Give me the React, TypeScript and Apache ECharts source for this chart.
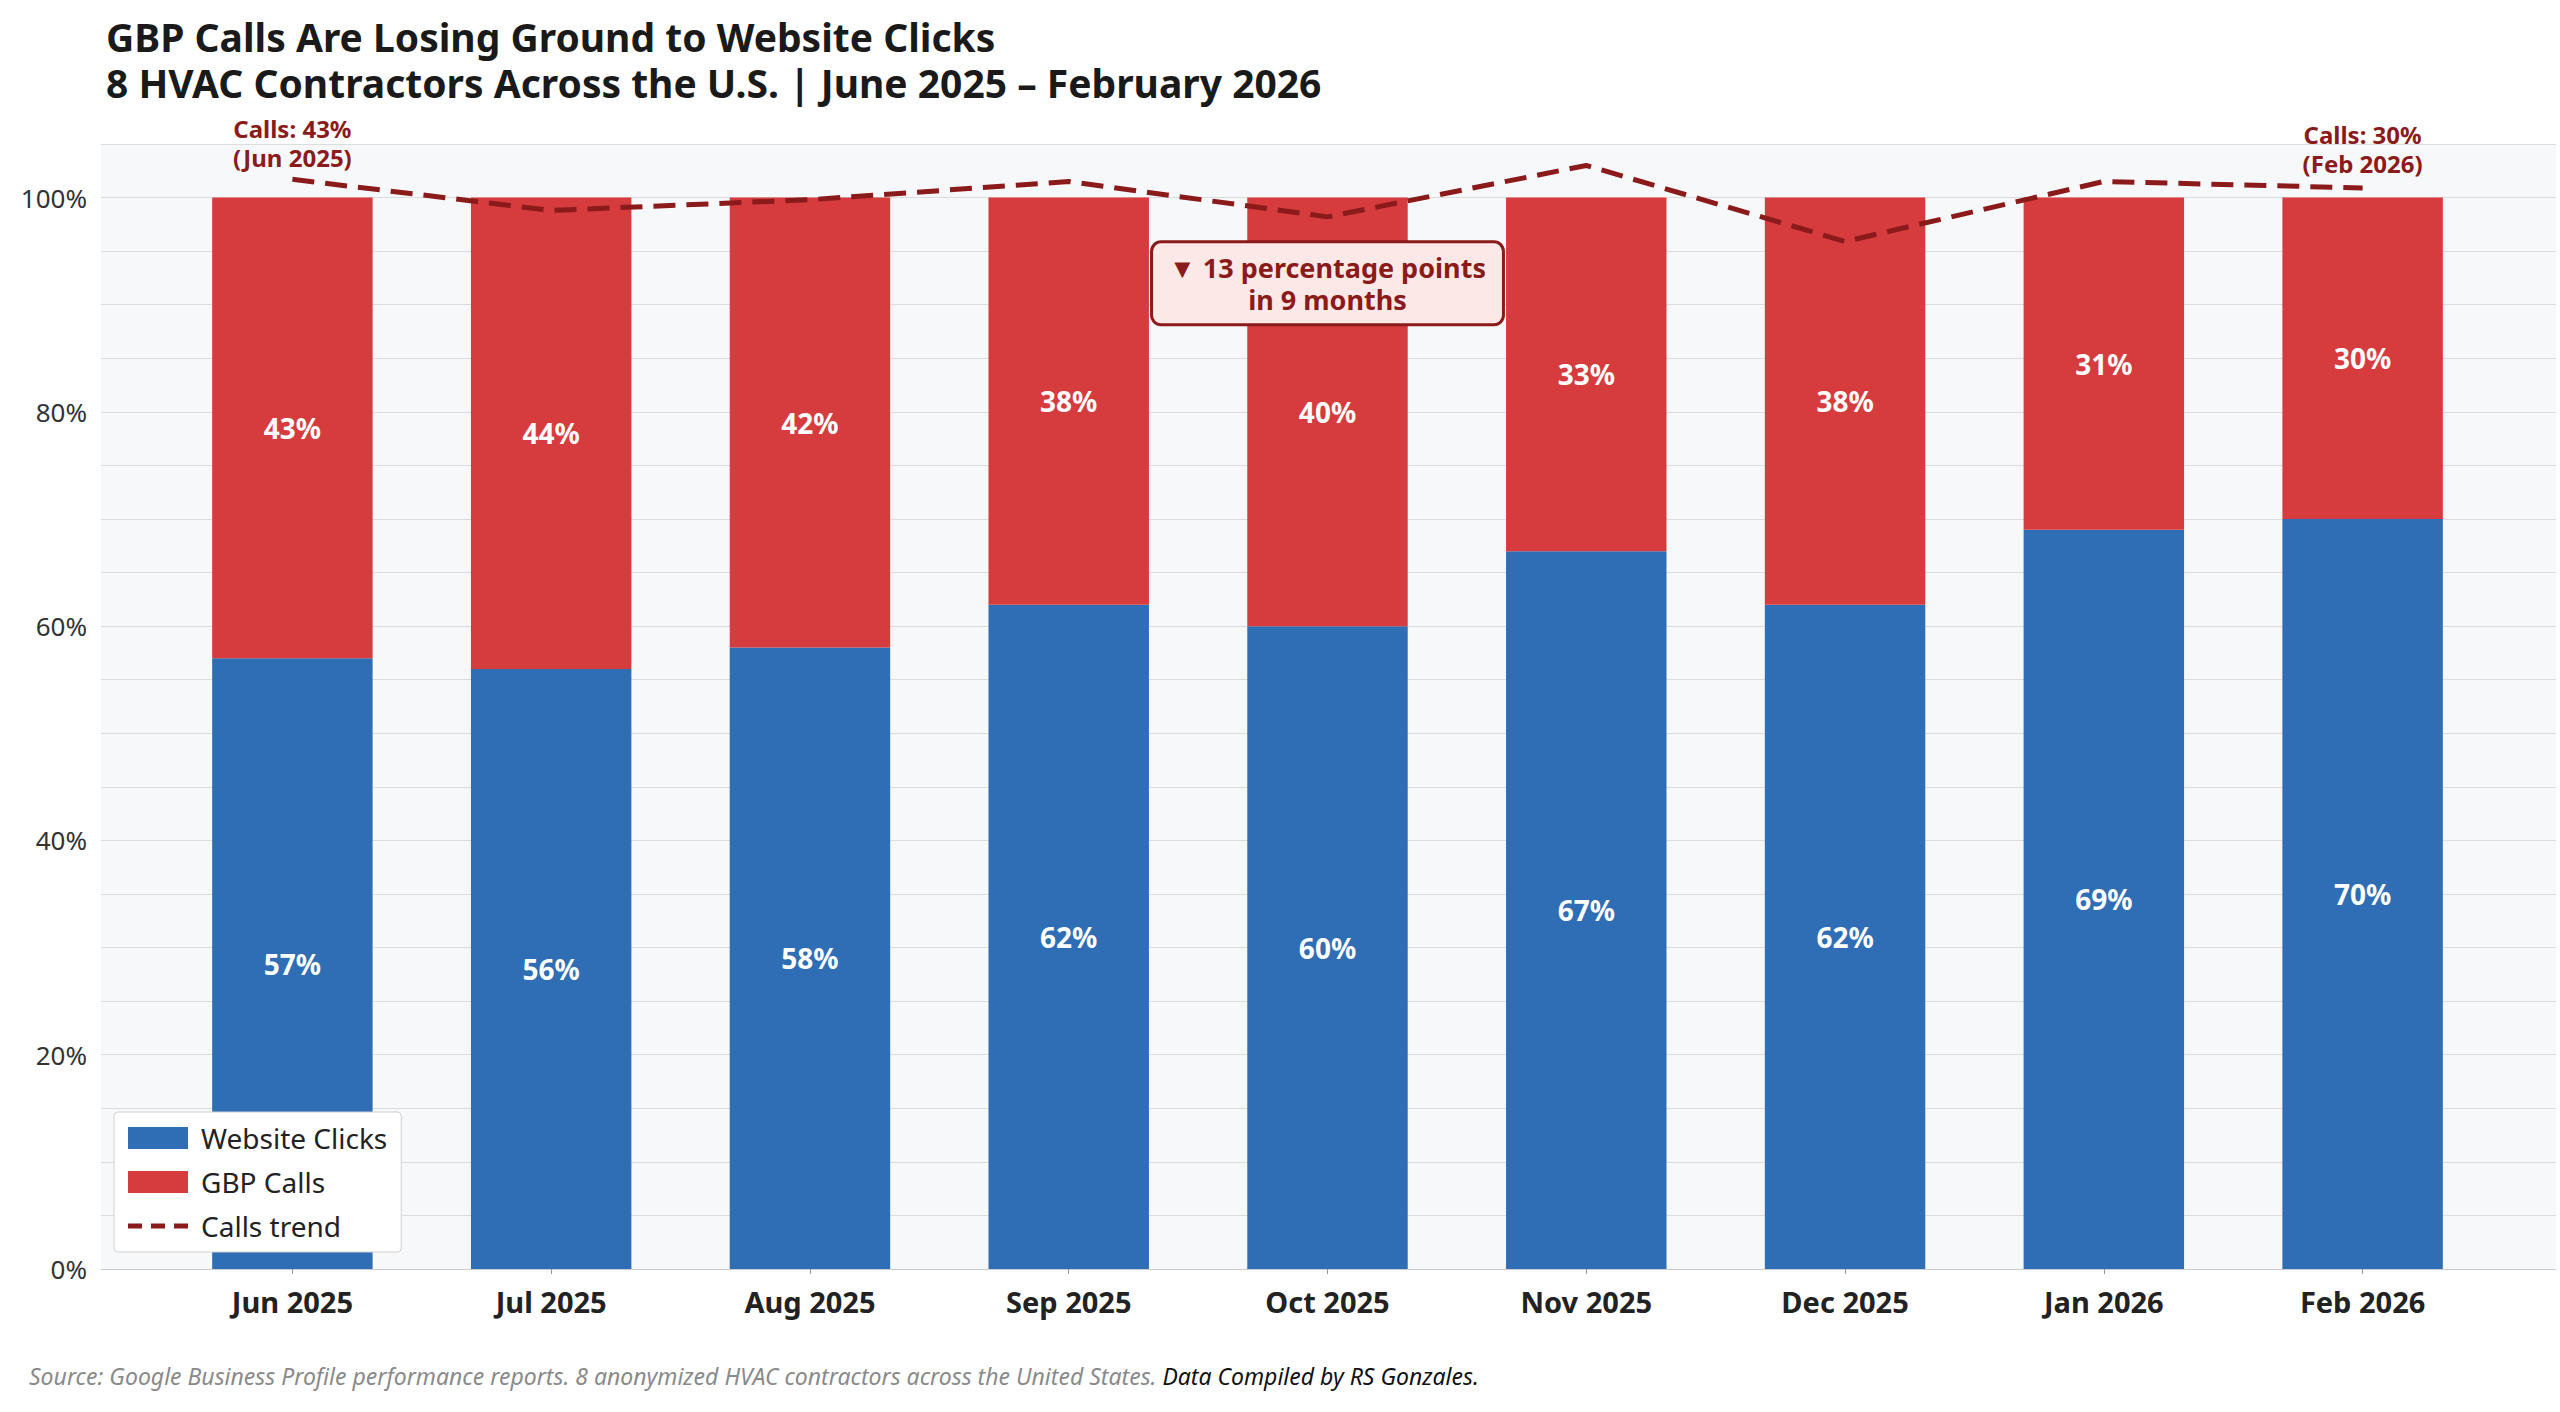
import * as echarts from "echarts";
import { useEffect, useRef } from "react";

const months = ["Jun 2025", "Jul 2025", "Aug 2025", "Sep 2025", "Oct 2025", "Nov 2025", "Dec 2025", "Jan 2026", "Feb 2026"];
const websiteClicks = [57, 56, 58, 62, 60, 67, 62, 69, 70];
const gbpCalls = [43, 44, 42, 38, 40, 33, 38, 31, 30];
// trend line drawn near the top of the plot (as in the source)
const callsTrend = [101.7, 98.8, 99.8, 101.5, 98.2, 103, 95.9, 101.5, 100.9];
const yTicks = [0, 20, 40, 60, 80, 100];

const FONT = "'Noto Sans', 'Open Sans', sans-serif";
const dashIcon = "path://M0,0 L14,0 L14,5 L0,5 Z M23,0 L37,0 L37,5 L23,5 Z M46,0 L60,0 L60,5 L46,5 Z";

const App = () => {
  const chartRef = useRef<HTMLDivElement>(null);

  useEffect(() => {
    document.body.style.margin = "0";
    const chart = echarts.init(chartRef.current, undefined, { renderer: "svg" });
    const yBase = { type: "value", min: 0, max: 105, interval: 5 };
    chart.setOption({
      animation: false,
      textStyle: { fontFamily: FONT },
      title: [
        {
          text: "GBP Calls Are Losing Ground to Website Clicks",
          left: 101,
          top: 12,
          textStyle: { fontSize: 39, fontWeight: "bold", color: "#1a1a1a", fontFamily: FONT },
        },
        {
          text: "8 HVAC Contractors Across the U.S. | June 2025 – February 2026",
          left: 101,
          top: 58,
          textStyle: { fontSize: 39, fontWeight: "bold", color: "#1a1a1a", fontFamily: FONT },
        },
      ],
      grid: [
        { left: 163, right: 68, top: 144, bottom: 143 },
        { left: 101, right: 4, top: 144, bottom: 143, show: true, backgroundColor: "#f7f8fa", borderWidth: 0, z: 0 },
      ],
      legend: {
        orient: "vertical",
        left: 114,
        bottom: 160,
        data: [
          { name: "Website Clicks", icon: "rect" },
          { name: "GBP Calls", icon: "rect" },
          { name: "Calls trend", icon: dashIcon },
        ],
        backgroundColor: "#ffffff",
        borderColor: "#d0d0d0",
        borderWidth: 1,
        borderRadius: 4,
        padding: [12, 14],
        itemGap: 16,
        itemWidth: 60,
        itemHeight: 22,
        textStyle: { fontSize: 28, color: "#222", padding: [0, 0, 0, 8] },
      },
      xAxis: [
        {
          type: "category",
          gridIndex: 0,
          data: months,
          boundaryGap: true,
          axisLine: { show: false },
          axisTick: { show: true, lineStyle: { color: "#999" }, alignWithLabel: true },
          axisLabel: { fontSize: 29, fontWeight: "bold", color: "#222", margin: 18 },
        },
        {
          type: "value",
          gridIndex: 1,
          min: 0,
          max: 1,
          axisLine: { show: true, onZero: false, lineStyle: { color: "#cccccc" } },
          axisTick: { show: false },
          axisLabel: { show: false },
          splitLine: { show: false },
        },
      ],
      yAxis: [
        { ...yBase, gridIndex: 0, show: false, splitLine: { show: false } },
        {
          ...yBase,
          gridIndex: 1,
          axisLine: { show: false },
          axisTick: { show: false },
          splitLine: {
            show: true,
            lineStyle: { color: "#dcdcdc" },
            showMinLine: false,
          },
          axisLabel: {
            fontSize: 26,
            color: "#333",
            margin: 14,
            formatter: (v: number) => (yTicks.includes(v) ? v + "%" : ""),
          },
        },
      ],
      series: [
        {
          name: "Website Clicks",
          type: "bar",
          stack: "total",
          data: websiteClicks,
          barWidth: "62%",
          z: 3,
          itemStyle: { color: "#2f6db5" },
          label: { show: true, position: "inside", formatter: "{c}%", color: "#fff", fontSize: 28, fontWeight: "bold" },
        },
        {
          name: "GBP Calls",
          type: "bar",
          stack: "total",
          data: gbpCalls,
          z: 3,
          itemStyle: { color: "#d63b3e" },
          label: { show: true, position: "inside", formatter: "{c}%", color: "#fff", fontSize: 28, fontWeight: "bold" },
        },
        {
          name: "Calls trend",
          type: "line",
          data: callsTrend,
          symbol: "none",
          z: 5,
          lineStyle: { color: "#8b1a1a", width: 5, type: [22, 11] },
          itemStyle: { color: "#8b1a1a" },
          markPoint: {
            symbol: "circle",
            symbolSize: 1,
            itemStyle: { color: "transparent" },
            data: [
              {
                coord: [months[0], callsTrend[0]],
                label: {
                  show: true,
                  formatter: "Calls: 43%\n(Jun 2025)",
                  position: "top",
                  offset: [0, -2],
                  color: "#8b1a1a",
                  fontSize: 24,
                  fontWeight: "bold",
                  lineHeight: 29,
                  align: "center",
                },
              },
              {
                coord: [months[8], callsTrend[8]],
                label: {
                  show: true,
                  formatter: "Calls: 30%\n(Feb 2026)",
                  position: "top",
                  offset: [0, -4],
                  color: "#8b1a1a",
                  fontSize: 24,
                  fontWeight: "bold",
                  lineHeight: 29,
                  align: "center",
                },
              },
              {
                coord: [months[4], 92],
                label: {
                  show: true,
                  formatter: "▼ 13 percentage points\nin 9 months",
                  position: "inside",
                  color: "#8b1a1a",
                  fontSize: 27,
                  fontWeight: "bold",
                  lineHeight: 32,
                  align: "center",
                  backgroundColor: "#fde8e8",
                  borderColor: "#8b1a1a",
                  borderWidth: 3,
                  borderRadius: 8,
                  padding: [8, 16],
                },
              },
            ],
          },
        },
      ],
      graphic: [
        {
          type: "text",
          left: 29,
          top: 1364,
          style: {
            text: "{a|Source: Google Business Profile performance reports. 8 anonymized HVAC contractors across the United States. }{b|Data Compiled by RS Gonzales.}",
            rich: {
              a: { fontSize: 23, fontStyle: "italic", fill: "#8a8a8a", fontFamily: FONT },
              b: { fontSize: 23, fontStyle: "italic", fill: "#111", fontFamily: FONT },
            },
          },
        },
      ],
    });
    return () => chart.dispose();
  }, []);

  return <div ref={chartRef} style={{ width: 2560, height: 1412 }} />;
};

export default App;
